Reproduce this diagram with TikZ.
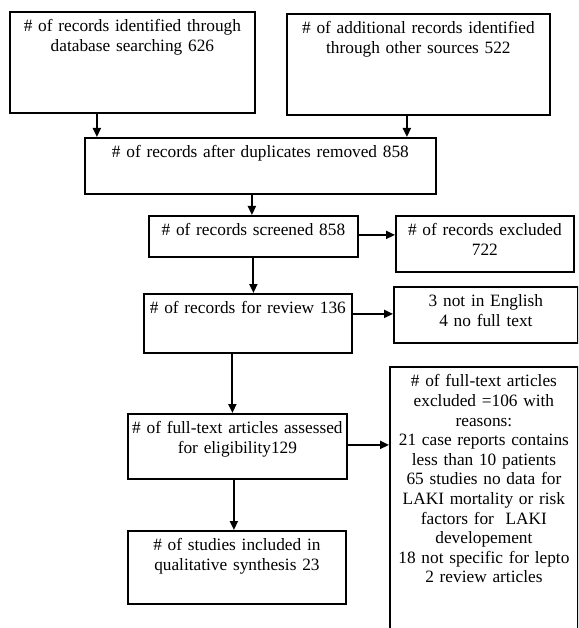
\documentclass[tikz,border=0pt]{standalone}
\usepackage{fontspec}
\setmainfont{Liberation Serif}
\usepackage{tikz}
\usetikzlibrary{arrows.meta}
\tikzset{
  box/.style = {draw, line width=1.8pt, anchor=north west, align=center,
                inner sep=0pt, text height=20pt,
                font=\fontsize{17.3}{19.6}\selectfont},
  arr/.style = {-{Triangle[length=9pt,width=8pt]}, line width=1.9pt},
}
\begin{document}
\begin{tikzpicture}[x=1pt,y=-1pt]
  \useasboundingbox (0,0) rectangle (578,628);
  \clip (0,0) rectangle (578,628);

  \node[box, text width=245pt, text depth=81pt] (ident) at (9,11)
        {\# of records identified through\\database searching 626};
  \node[box, text width=263pt, text depth=81pt] (other) at (286,13)
        {\# of additional records identified\\through other sources 522};
  \node[box, text width=351pt, text depth=36pt] (dedup) at (84,137)
        {\# of records after duplicates removed 858};
  \node[box, text width=209pt, text depth=21pt] (screen) at (148,215)
        {\# of records screened 858};
  \node[box, text width=178pt, text depth=36pt] (excl) at (395,215)
        {\# of records excluded\\722};
  \node[box, text width=208pt, text depth=39pt] (review) at (143,293)
        {\# of records for review 136};
  \node[box, text width=184pt, text depth=36pt] (lang) at (393,286)
        {3 not in English\\4 no full text};
  \node[box, text width=219pt, text depth=45pt] (fulltext) at (127,413)
        {\# of full-text articles assessed\\for eligibility129};
  \node[box, text width=188pt, text depth=254pt] (reasons) at (389,366)
        {\# of full-text articles\\excluded =106 with\\reasons:\\
         21 case reports contains\\less than 10 patients\\
         65 studies no data for\\LAKI mortality or risk\\factors for ~LAKI\\
         developement\\18 not specific for lepto\\2 review articles};
  \node[box, text width=218pt, text depth=53pt] (incl) at (127,530)
        {\# of studies included in\\qualitative synthesis 23};

  \draw[arr] ([xshift=-35.5pt]ident.south) coordinate (a1) -- (a1 |- dedup.north);
  \draw[arr] ([xshift=-11.5pt]other.south) coordinate (a2) -- (a2 |- dedup.north);
  \draw[arr] ([xshift=-8.5pt]dedup.south) coordinate (a3) -- (a3 |- screen.north);
  \draw[arr] ([yshift=1.5pt]screen.east) coordinate (a4) -- (a4 -| excl.west);
  \draw[arr] (screen.south) -- (screen.south |- review.north);
  \draw[arr] ([yshift=9.5pt]review.east) coordinate (a5) -- (a5 -| lang.west);
  \draw[arr] ([xshift=-15.5pt]review.south) coordinate (a6) -- (a6 |- fulltext.north);
  \draw[arr] ([yshift=1.5pt]fulltext.east) coordinate (a8) -- (a8 -| reasons.west);
  \draw[arr] ([xshift=-3.5pt]fulltext.south) coordinate (a7) -- (a7 |- incl.north);
\end{tikzpicture}
\end{document}
